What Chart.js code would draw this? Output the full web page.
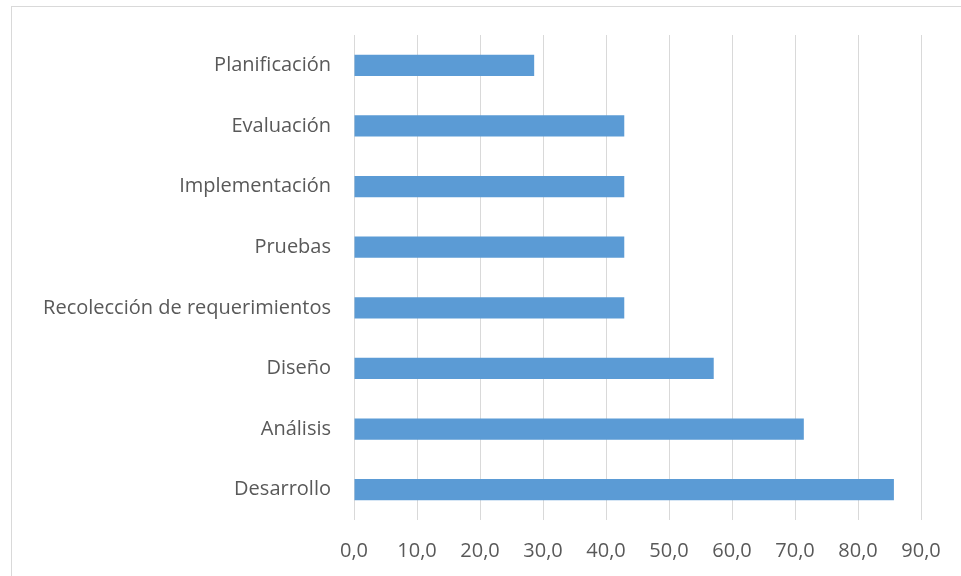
<!DOCTYPE html>
<html>
<head>
<meta charset="utf-8">
<script src="https://cdn.jsdelivr.net/npm/chart.js@4"></script>
<style>
    html, body { margin: 0; padding: 0; background: #fff; overflow: hidden; }
    #frame {
        position: absolute; left: 11px; top: 6px;
        width: 980px; height: 620px;
        border: 1px solid #d9d9d9;
    }
    #wrap { position: absolute; left: 0; top: 0; width: 961px; height: 576px; }
</style>
</head>
<body>
<div id="frame"></div>
<div id="wrap"><canvas id="barChart"></canvas></div>
<script>
// categories top to bottom
const categories = [
    'Planificación',
    'Evaluación',
    'Implementación',
    'Pruebas',
    'Recolección de requerimientos',
    'Diseño',
    'Análisis',
    'Desarrollo'
];
const percentages = [28.6, 42.9, 42.9, 42.9, 42.9, 57.1, 71.4, 85.7];
const xTicks = [0, 10, 20, 30, 40, 50, 60, 70, 80, 90];

const textColor = '#595959';
const gridColor = '#d9d9d9';

document.addEventListener('DOMContentLoaded', function() {
    const ctx = document.getElementById('barChart');

    new Chart(ctx, {
        type: 'bar',
        data: {
            labels: categories,
            datasets: [
                {
                    data: percentages,
                    backgroundColor: '#5B9BD5',
                    categoryPercentage: 1,
                    barPercentage: 0.35
                }
            ]
        },
        options: {
            indexAxis: 'y',
            responsive: true,
            maintainAspectRatio: false,
            animation: false,
            layout: { padding: { top: 35, right: 40, left: 0, bottom: 0 } },
            plugins: { legend: { display: false }, tooltip: { enabled: false } },
            scales: {
                x: {
                    min: 0,
                    max: 90,
                    afterBuildTicks: (axis) => { axis.ticks = xTicks.map(v => ({ value: v })); },
                    afterFit: (axis) => { axis.height = 56; },
                    grid: { color: gridColor, lineWidth: 1, drawTicks: false },
                    border: { display: false },
                    ticks: {
                        color: textColor,
                        padding: 19,
                        font: { family: 'Open Sans', size: 20 },
                        callback: (v) => Number(v).toFixed(1).replace('.', ',')
                    }
                },
                y: {
                    afterFit: (axis) => { axis.width = 354; },
                    grid: { display: false, drawTicks: false },
                    border: { display: false },
                    ticks: {
                        color: textColor,
                        padding: 23,
                        font: { family: 'Open Sans', size: 20 }
                    }
                }
            }
        }
    });
});
</script>
</body>
</html>
